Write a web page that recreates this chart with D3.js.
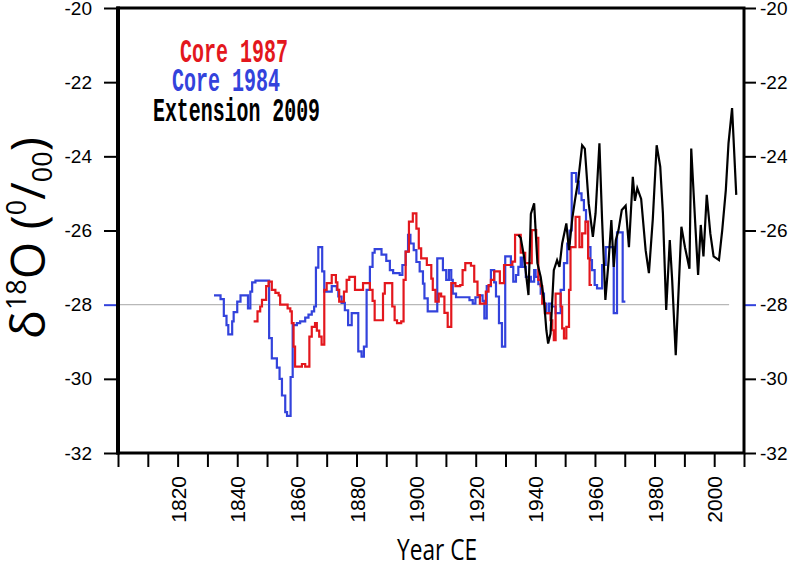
<!DOCTYPE html>
<html><head><meta charset="utf-8">
<script src="https://cdn.jsdelivr.net/npm/d3@7"></script>
<style>html,body{margin:0;padding:0;background:#fff}svg{display:block}</style>
</head><body>
<svg id="chart" width="793" height="572"></svg>
<script>
// ---- data ----
const seriesNames = ["Core 1987", "Core 1984", "Extension 2009"];
const seriesColors = ["#e3171d", "#3343dc", "#000000"];

const core1984Years = [1832.2,1834.4,1835.5,1836.4,1837.0,1838.3,1838.8,1840.0,1841.1,1843.6,1844.4,1845.0,1846.1,1850.7,1851.6,1853.3,1854.2,1855.0,1856.1,1856.7,1857.9,1858.6,1860.0,1861.1,1862.8,1863.9,1865.0,1865.8,1866.4,1867.2,1868.5,1869.2,1871.7,1873.4,1873.9,1875.0,1876.1,1877.2,1878.4,1880.6,1881.7,1882.5,1883.4,1884.5,1885.4,1886.1,1888.4,1890.0,1891.2,1892.3,1894.5,1895.4,1896.5,1897.3,1898.1,1899.2,1900.1,1901.2,1902.3,1902.8,1903.9,1907.1,1909.0,1910.1,1911.0,1911.8,1912.3,1913.4,1917.9,1919.0,1919.9,1921.2,1922.3,1922.9,1923.7,1925.1,1926.2,1926.8,1927.8,1928.8,1929.9,1931.8,1932.6,1933.5,1934.3,1935.1,1935.7,1936.8,1938.5,1939.6,1940.1,1941.0,1941.8,1942.9,1943.7,1944.6,1945.5,1946.8,1948.5,1949.6,1950.7,1951.5,1952.2,1953.7,1954.6,1955.5,1956.3,1957.0,1957.7,1958.5,1959.0,1959.9,1960.7,1962.4,1963.6,1966.3,1967.4,1969.3,1970.2];
const core1984Values = [-27.75,-27.85,-28.3,-28.55,-28.8,-28.45,-28.2,-27.92,-27.75,-28.1,-27.65,-27.4,-27.35,-28.9,-29.45,-29.7,-30.0,-30.45,-30.9,-31.0,-29.95,-28.55,-28.5,-28.45,-28.35,-28.27,-28.18,-28.05,-27.0,-26.45,-27.1,-27.65,-27.5,-27.6,-27.78,-27.95,-28.15,-28.55,-28.23,-29.26,-29.4,-29.13,-27.6,-26.98,-26.6,-26.5,-26.65,-26.82,-27.07,-27.15,-27.2,-26.93,-26.57,-26.12,-26.35,-26.53,-26.85,-27.1,-27.43,-27.83,-28.18,-26.75,-27.07,-27.33,-27.07,-27.33,-27.7,-27.8,-27.88,-27.97,-27.8,-27.75,-27.9,-28.37,-27.5,-27.07,-27.4,-27.78,-28.5,-29.13,-26.7,-26.98,-27.38,-27.2,-26.98,-26.73,-26.98,-27.25,-27.38,-27.07,-27.25,-27.45,-27.7,-27.97,-28.23,-27.97,-28.05,-28.23,-27.6,-26.88,-26.35,-26.0,-24.45,-24.68,-25.0,-25.18,-25.45,-25.77,-26.45,-26.8,-27.07,-27.47,-27.56,-26.93,-26.45,-28.23,-26.05,-27.92,-27.92];

const core1987Years = [1845.5,1846.8,1847.7,1848.3,1849.7,1850.5,1851.6,1852.8,1853.9,1854.4,1856.9,1857.8,1858.3,1858.9,1859.4,1861.7,1862.8,1864.2,1865.0,1866.1,1866.7,1867.5,1868.3,1869.2,1870.0,1871.7,1873.1,1873.6,1874.2,1875.8,1876.7,1877.6,1879.5,1882.2,1884.5,1885.4,1886.1,1888.9,1889.5,1892.0,1892.8,1893.6,1895.0,1895.8,1896.5,1897.6,1898.9,1900.1,1900.9,1901.7,1903.6,1905.1,1905.6,1906.5,1907.6,1908.4,1909.5,1910.6,1911.8,1913.2,1914.8,1915.6,1916.5,1918.4,1919.5,1920.6,1921.4,1923.4,1924.3,1925.1,1926.2,1928.1,1929.5,1932.3,1933.2,1935.1,1936.6,1938.8,1940.3,1941.0,1941.8,1942.3,1943.2,1945.1,1945.7,1946.2,1946.8,1948.5,1949.0,1949.6,1950.4,1951.3,1951.8,1953.5,1954.8,1955.7,1956.8,1957.7,1958.2,1959.0];
const core1987Values = [-28.45,-28.18,-28.05,-27.87,-27.5,-27.38,-27.6,-27.68,-27.75,-28.0,-28.1,-28.18,-28.5,-29.13,-29.67,-29.6,-29.67,-28.86,-28.6,-28.5,-28.7,-28.86,-29.08,-27.6,-27.42,-27.2,-27.4,-27.6,-27.92,-27.65,-27.33,-27.25,-27.6,-27.42,-27.6,-27.9,-28.42,-27.7,-27.42,-28.05,-28.42,-28.5,-28.45,-27.33,-26.57,-25.76,-25.54,-25.95,-26.48,-26.75,-26.93,-27.3,-27.6,-27.92,-27.7,-27.78,-28.22,-28.6,-27.42,-27.5,-27.47,-27.07,-26.88,-26.95,-27.38,-27.74,-27.97,-27.65,-27.47,-27.33,-27.1,-27.42,-26.93,-26.84,-26.12,-26.6,-26.88,-25.99,-26.2,-27.33,-27.5,-27.97,-28.23,-28.42,-28.69,-28.96,-27.7,-28.05,-28.64,-28.91,-28.6,-27.6,-26.45,-25.63,-26.45,-26.08,-25.76,-26.75,-27.47,-27.47];

const ext2009Years = [1934.3,1935.1,1936.2,1937.7,1938.5,1939.6,1940.7,1941.8,1942.9,1943.7,1944.3,1945.1,1946.2,1947.3,1948.1,1949.0,1950.4,1951.3,1952.4,1953.3,1954.4,1955.7,1956.6,1957.9,1959.3,1960.2,1961.5,1962.4,1963.5,1964.6,1965.5,1966.3,1967.0,1967.9,1969.0,1970.3,1971.4,1972.7,1973.4,1974.2,1975.5,1977.0,1978.1,1979.4,1980.7,1981.9,1982.8,1983.9,1985.1,1985.9,1987.1,1989.0,1990.2,1991.7,1992.3,1993.7,1994.6,1995.5,1996.4,1997.5,1998.7,1999.8,2001.6,2002.7,2003.9,2004.8,2006.0,2007.4];
const ext2009Values = [-26.12,-26.2,-26.7,-27.74,-25.55,-25.27,-26.88,-27.25,-27.87,-28.69,-29.05,-28.78,-27.07,-26.8,-26.98,-26.35,-25.81,-26.53,-25.67,-25.18,-24.64,-23.7,-23.79,-25.27,-26.17,-25.54,-23.65,-25.72,-27.87,-26.8,-25.72,-26.98,-26.26,-25.99,-25.45,-25.33,-26.45,-24.55,-25.2,-24.86,-25.15,-26.53,-27.15,-25.7,-23.7,-24.28,-25.54,-28.14,-26.26,-27.33,-29.36,-25.9,-26.45,-27.03,-23.79,-25.9,-27.2,-25.85,-26.7,-25.04,-26.08,-26.7,-26.8,-25.99,-24.91,-23.65,-22.7,-25.04];

const xDomain = [1800, 2010];
const yDomain = [-32, -20];
const xTickYears = [1800,1810,1820,1830,1840,1850,1860,1870,1880,1890,1900,1910,1920,1930,1940,1950,1960,1970,1980,1990,2000,2010];
const xLabelYears = [1820,1840,1860,1880,1900,1920,1940,1960,1980,2000];
const yTickValues = [-32,-30,-28,-26,-24,-22,-20];
const refValue = -28;
const refSpan = [1800, 2005];

// ---- drawing ----
const svg = d3.select("#chart");
const L = 118, R = 744, T = 8, B = 453;
const x = d3.scaleLinear().domain(xDomain).range([L, R]);
const y = d3.scaleLinear().domain(yDomain).range([B, T]);

// reference line
svg.append("line")
  .attr("x1", x(refSpan[0])).attr("x2", x(refSpan[1]))
  .attr("y1", y(refValue)).attr("y2", y(refValue))
  .attr("stroke", "#b8b8b8").attr("stroke-width", 1.2);

const zip = (xs, vs) => xs.map((d, i) => [d, vs[i]]);
const stepLine = d3.line().x(d => x(d[0])).y(d => y(d[1])).curve(d3.curveStepAfter);
const plainLine = d3.line().x(d => x(d[0])).y(d => y(d[1]));

svg.append("path").datum(zip(core1984Years, core1984Values))
  .attr("d", stepLine).attr("fill", "none")
  .attr("stroke", seriesColors[1]).attr("stroke-width", 2.2);
svg.append("path").datum(zip(core1987Years, core1987Values))
  .attr("d", stepLine).attr("fill", "none")
  .attr("stroke", seriesColors[0]).attr("stroke-width", 2.2);
svg.append("path").datum(zip(ext2009Years, ext2009Values))
  .attr("d", plainLine).attr("fill", "none")
  .attr("stroke", seriesColors[2]).attr("stroke-width", 2.2)
  .attr("stroke-linejoin", "miter");

// axes
const fmt = d => String(d);
const yl = svg.append("g").attr("transform", `translate(${L},0)`)
  .call(d3.axisLeft(y).tickValues(yTickValues).tickSize(14).tickPadding(12).tickFormat(fmt));
const yr = svg.append("g").attr("transform", `translate(${R},0)`)
  .call(d3.axisRight(y).tickValues(yTickValues).tickSize(12).tickPadding(4).tickFormat(fmt));
[yl, yr].forEach(g => {
  g.select(".domain").remove();
  g.selectAll(".tick line").attr("stroke", "#000").attr("stroke-width", 2);
  g.selectAll(".tick").filter(d => d === refValue).select("line").attr("stroke", seriesColors[1]);
  g.selectAll(".tick text").attr("font-family", "Liberation Sans, Arial, sans-serif")
    .attr("font-size", 19).attr("fill", "#000");
});

const xa = svg.append("g").attr("transform", `translate(0,${B})`)
  .call(d3.axisBottom(x).tickValues(xTickYears).tickSize(14)
    .tickFormat(d => xLabelYears.includes(d) ? String(d) : ""));
xa.select(".domain").remove();
xa.selectAll(".tick line").attr("stroke", "#000").attr("stroke-width", 2);
xa.selectAll(".tick text")
  .attr("transform", "rotate(-90)")
  .attr("text-anchor", "end")
  .attr("x", -23).attr("y", 0).attr("dy", "0.36em")
  .attr("font-family", "Liberation Sans, Arial, sans-serif")
  .attr("font-size", 21).attr("fill", "#000");

// frame
svg.append("rect").attr("x", L).attr("y", T).attr("width", R - L).attr("height", B - T)
  .attr("fill", "none").attr("stroke", "#000").attr("stroke-width", 3);
svg.append("line").attr("x1", L).attr("x2", L).attr("y1", T - 1.5).attr("y2", B + 1.5)
  .attr("stroke", "#000").attr("stroke-width", 4);

// legend
const legendPos = [[180, 62, 108], [172, 91, 108], [153, 121, 167]];
seriesNames.forEach((n, i) => {
  svg.append("text").attr("x", legendPos[i][0]).attr("y", legendPos[i][1])
    .attr("font-family", "Liberation Mono, monospace").attr("font-size", 34)
    .attr("font-weight", "bold")
    .attr("textLength", legendPos[i][2]).attr("lengthAdjust", "spacingAndGlyphs")
    .attr("fill", seriesColors[i]).text(n);
});

// axis titles
const yt = svg.append("text").attr("transform", "translate(45,238) rotate(-90)")
  .attr("text-anchor", "middle").attr("font-family", "Open Sans, sans-serif")
  .attr("font-size", 48).attr("fill", "#000");
yt.append("tspan").text("δ");
yt.append("tspan").attr("font-size", 27).attr("dy", -19).text("18");
yt.append("tspan").attr("dy", 19).text("O (");
yt.append("tspan").attr("font-size", 27).attr("dy", -19).text("0");
yt.append("tspan").attr("dy", 19).text("/");
yt.append("tspan").attr("font-size", 27).attr("dy", 7).text("00");
yt.append("tspan").attr("dy", -7).text(")");

svg.append("text").attr("x", 437).attr("y", 560).attr("text-anchor", "middle")
  .attr("font-family", "Open Sans, sans-serif").attr("font-size", 30)
  .attr("textLength", 80).attr("lengthAdjust", "spacingAndGlyphs")
  .attr("fill", "#000").text("Year CE");
</script>
</body></html>
